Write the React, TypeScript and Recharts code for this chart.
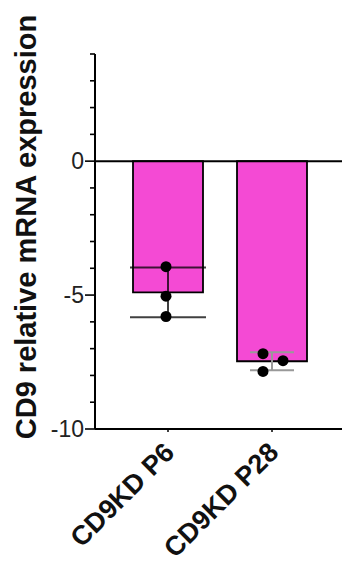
import React from "react";
import {
  ComposedChart,
  Bar,
  ErrorBar,
  Scatter,
  XAxis,
  YAxis,
  ReferenceLine,
  Label,
} from "recharts";

const categories = ["CD9KD P6", "CD9KD P28"];
const meanValues = [-4.9, -7.47];
const sdValues = [0.93, 0.34];
const rep1 = [-3.94, -7.19];
const rep2 = [-5.04, -7.45];
const rep3 = [-5.8, -7.85];
const yTicks = [-10, -9, -8, -7, -6, -5, -4, -3, -2, -1, 0, 1, 2, 3, 4];
const majorTicks = [0, -5, -10];

// horizontal jitter of the replicate dots, px (style only)
const jitter = [
  [-2, -2, -2],
  [-9, 11, -9],
];

const data = categories.map((name, i) => ({
  name,
  mean: meanValues[i],
  sd: sdValues[i],
  errP6: i === 0 ? meanValues[i] : null,
  errP28: i === 1 ? meanValues[i] : null,
  rep1: rep1[i],
  rep2: rep2[i],
  rep3: rep3[i],
}));

const FONT = "Arial, 'Liberation Sans', sans-serif";
const PINK = "#F44AD4";

function YTick(props: any) {
  const { x, y, payload } = props;
  const major = majorTicks.includes(payload.value);
  const len = major ? 10 : 5;
  return (
    <g>
      <line x1={x - len} x2={x} y1={y} y2={y} stroke="#000" strokeWidth={1.6} />
      {major && (
        <text
          x={x - len - 1}
          y={y}
          textAnchor="end"
          dominantBaseline="central"
          fontFamily={FONT}
          fontSize={23}
          fill="#222"
        >
          {payload.value}
        </text>
      )}
    </g>
  );
}

function XTick(props: any) {
  const { x, y, payload } = props;
  const ax = x + 8;
  const ay = y + 22;
  return (
    <text
      x={ax}
      y={ay}
      transform={`rotate(-45, ${ax}, ${ay})`}
      textAnchor="end"
      fontFamily={FONT}
      fontWeight="bold"
      fontSize={27}
      fill="#111"
    >
      {payload.value}
    </text>
  );
}

function makeDot(series: number) {
  return (props: any) => {
    const { cx, cy, index } = props;
    if (cx == null || cy == null || isNaN(cy)) return <g />;
    const dx = jitter[index]?.[series] ?? 0;
    return <circle cx={cx + dx} cy={cy} r={5.5} fill="#000" />;
  };
}

const noShape = () => <g />;

function YLabel() {
  return (
    <text
      x={36}
      y={227}
      transform="rotate(-90, 36, 227)"
      textAnchor="middle"
      fontFamily={FONT}
      fontWeight="bold"
      fontSize={29}
      fill="#111"
    >
      CD9 relative mRNA expression
    </text>
  );
}

export default function App() {
  return (
    <div style={{ position: "absolute", left: 0, top: 0, width: 342, height: 568, background: "#fff" }}>
      <ComposedChart
        width={342}
        height={568}
        data={data}
        margin={{ top: 54, right: 0, left: 0, bottom: 0 }}
        barSize={70}
      >
        <XAxis
          dataKey="name"
          type="category"
          padding={{ left: 21, right: 18 }}
          height={139}
          axisLine={{ stroke: "#000", strokeWidth: 2 }}
          tickLine={{ stroke: "#000", strokeWidth: 1.5 }}
          tickSize={3}
          tickMargin={0}
          tick={<XTick />}
          interval={0}
        />
        <YAxis
          type="number"
          domain={[-10, 4]}
          ticks={yTicks}
          width={95}
          interval={0}
          axisLine={{ stroke: "#000", strokeWidth: 2 }}
          tickLine={false}
          tickSize={0}
          tickMargin={0}
          tick={<YTick />}
        >
          <Label content={<YLabel />} />
        </YAxis>
        <Bar
          dataKey="mean"
          fill={PINK}
          stroke="#000"
          strokeWidth={1.8}
          isAnimationActive={false}
        />
        <ReferenceLine y={0} stroke="#000" strokeWidth={2} />
        <Scatter dataKey="errP6" shape={noShape} isAnimationActive={false}>
          <ErrorBar
            dataKey="sd"
            width={38}
            stroke="#000"
            strokeOpacity={0.75}
            strokeWidth={2}
            direction="y"
          />
        </Scatter>
        <Scatter dataKey="errP28" shape={noShape} isAnimationActive={false}>
          <ErrorBar
            dataKey="sd"
            width={22}
            stroke="#999"
            strokeWidth={2}
            direction="y"
          />
        </Scatter>
        <Scatter dataKey="rep1" shape={makeDot(0)} isAnimationActive={false} />
        <Scatter dataKey="rep2" shape={makeDot(1)} isAnimationActive={false} />
        <Scatter dataKey="rep3" shape={makeDot(2)} isAnimationActive={false} />
      </ComposedChart>
    </div>
  );
}
